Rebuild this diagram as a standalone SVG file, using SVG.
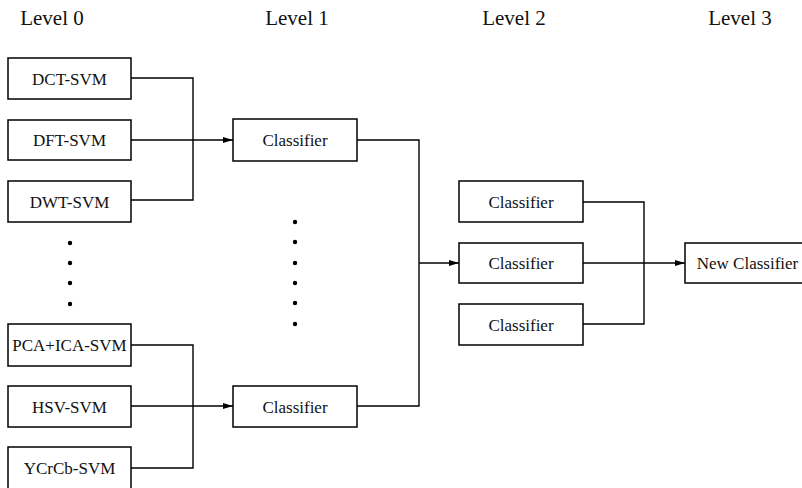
<svg xmlns="http://www.w3.org/2000/svg" width="802" height="488" viewBox="0 0 802 488">
  <style>
    .box { fill: #fff; stroke: #000; stroke-width: 1.5; }
    .lbl { font-family: "Liberation Serif", "Times New Roman", serif; font-size: 17px; text-anchor: middle; fill: #111; }
    .lvl { font-family: "Liberation Serif", "Times New Roman", serif; font-size: 21px; text-anchor: middle; fill: #111; }
    .wire { fill: none; stroke: #000; stroke-width: 1.4; }
    .dot { fill: #000; }
  </style>
  <defs>
    <marker id="arrow" viewBox="0 0 10 6" refX="10" refY="3" markerWidth="10" markerHeight="6" markerUnits="userSpaceOnUse" orient="auto">
      <path d="M0,0 L10,3 L0,6 z" fill="#000"/>
    </marker>
  </defs>
  <rect width="802" height="488" fill="#fff"/>

  <!-- column headings -->
  <g id="levels">
    <text class="lvl" x="52" y="25">Level 0</text>
    <text class="lvl" x="297" y="25">Level 1</text>
    <text class="lvl" x="514" y="25">Level 2</text>
    <text class="lvl" x="740" y="25">Level 3</text>
  </g>

  <!-- connectors -->
  <g id="connectors">
    <path class="wire" d="M131,78 H193 V200 H131"/>
    <path class="wire" d="M131,140 H233" marker-end="url(#arrow)"/>
    <path class="wire" d="M131,345 H193 V468 H131"/>
    <path class="wire" d="M131,406 H233" marker-end="url(#arrow)"/>
    <path class="wire" d="M357,140 H419 V406 H357"/>
    <path class="wire" d="M419,263 H459" marker-end="url(#arrow)"/>
    <path class="wire" d="M583,202 H644 V324 H583"/>
    <path class="wire" d="M583,263 H685" marker-end="url(#arrow)"/>
  </g>

  <!-- level 0 -->
  <g id="dct-svm"><rect class="box" x="8" y="58" width="123" height="41"/><text class="lbl" x="69.5" y="84.5">DCT-SVM</text></g>
  <g id="dft-svm"><rect class="box" x="8" y="120" width="123" height="40"/><text class="lbl" x="69.5" y="146">DFT-SVM</text></g>
  <g id="dwt-svm"><rect class="box" x="8" y="181" width="123" height="41"/><text class="lbl" x="69.5" y="207.5">DWT-SVM</text></g>
  <g id="dots-0">
    <circle class="dot" cx="70" cy="243" r="2.2"/>
    <circle class="dot" cx="70" cy="263" r="2.2"/>
    <circle class="dot" cx="70" cy="283" r="2.2"/>
    <circle class="dot" cx="70" cy="304" r="2.2"/>
  </g>
  <g id="pca-ica-svm"><rect class="box" x="8" y="324" width="123" height="42"/><text class="lbl" x="69.5" y="351">PCA+ICA-SVM</text></g>
  <g id="hsv-svm"><rect class="box" x="8" y="386" width="123" height="41"/><text class="lbl" x="69.5" y="412.5">HSV-SVM</text></g>
  <g id="ycrcb-svm"><rect class="box" x="8" y="447" width="123" height="45"/><text class="lbl" x="69.5" y="474">YCrCb-SVM</text></g>

  <!-- level 1 -->
  <g id="classifier-1a"><rect class="box" x="233" y="119" width="124" height="42"/><text class="lbl" x="295" y="146">Classifier</text></g>
  <g id="dots-1">
    <circle class="dot" cx="295" cy="222" r="2.2"/>
    <circle class="dot" cx="295" cy="242" r="2.2"/>
    <circle class="dot" cx="295" cy="263" r="2.2"/>
    <circle class="dot" cx="295" cy="283" r="2.2"/>
    <circle class="dot" cx="295" cy="303" r="2.2"/>
    <circle class="dot" cx="295" cy="324" r="2.2"/>
  </g>
  <g id="classifier-1b"><rect class="box" x="233" y="386" width="124" height="41"/><text class="lbl" x="295" y="412.5">Classifier</text></g>

  <!-- level 2 -->
  <g id="classifier-2a"><rect class="box" x="459" y="181" width="124" height="41"/><text class="lbl" x="521" y="207.5">Classifier</text></g>
  <g id="classifier-2b"><rect class="box" x="459" y="243" width="124" height="40"/><text class="lbl" x="521" y="269">Classifier</text></g>
  <g id="classifier-2c"><rect class="box" x="459" y="304" width="124" height="41"/><text class="lbl" x="521" y="330.5">Classifier</text></g>

  <!-- level 3 -->
  <g id="new-classifier"><rect class="box" x="685" y="243" width="122" height="40"/><text class="lbl" x="747.5" y="269">New Classifier</text></g>
</svg>
